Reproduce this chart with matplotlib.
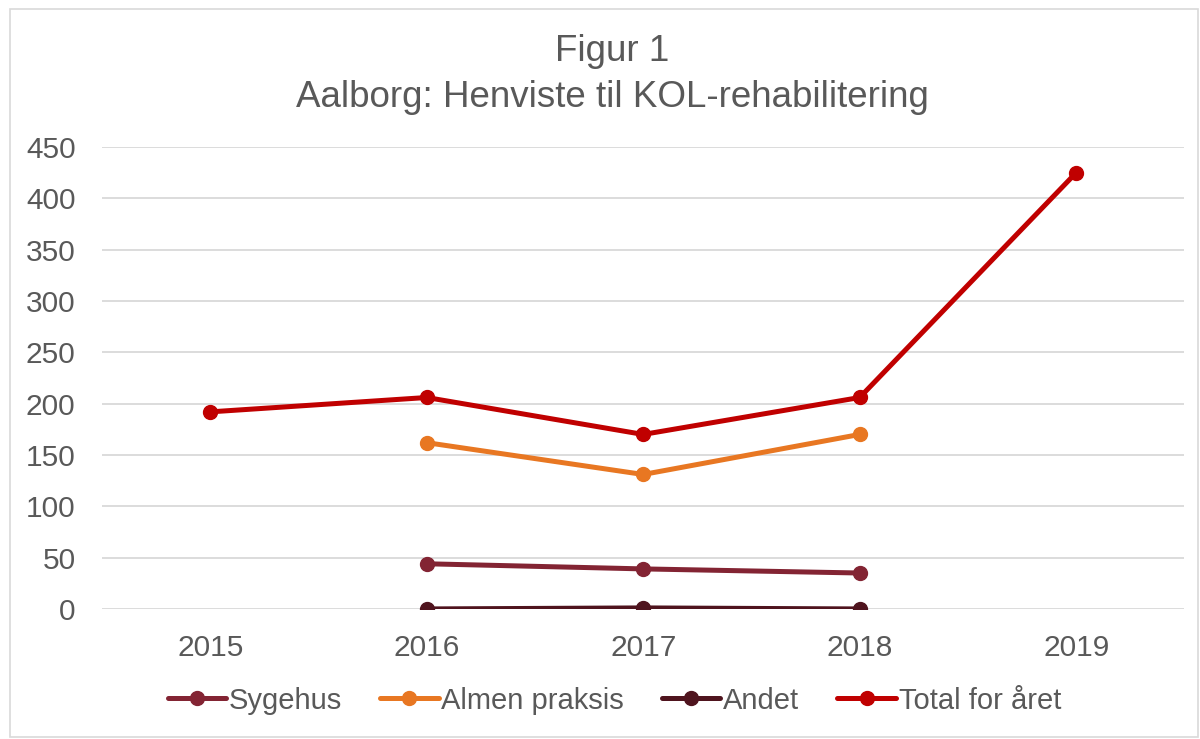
import matplotlib
matplotlib.use('Agg')
import matplotlib.pyplot as plt
from matplotlib.patches import Rectangle
import numpy as np

years = ['2015', '2016', '2017', '2018', '2019']
sygehus = [np.nan, 44, 39, 35, np.nan]
almen = [np.nan, 162, 131, 170, np.nan]
andet = [np.nan, 0, 1, 0, np.nan]
total = [192, 206, 170, 206, 425]

plt.rcParams['font.family'] = ['Liberation Sans', 'DejaVu Sans']
grey = '#595959'

fig = plt.figure(figsize=(12, 7.39), dpi=100)
ax = fig.add_axes([0.085, 0.176, 0.902, 0.625])

x = np.arange(len(years))
series = [
    ('Sygehus', sygehus, '#832433'),
    ('Almen praksis', almen, '#e87722'),
    ('Andet', andet, '#4f141e'),
    ('Total for året', total, '#c00000'),
]
for name, vals, col in series:
    ax.plot(x, vals, color=col, lw=3.6, marker='o', ms=10, label=name,
            solid_capstyle='round', zorder=3)

ax.set_xlim(-0.5, 4.5)
ax.set_ylim(0, 450)
ax.set_yticks(range(0, 451, 50))
ax.set_xticks(x)
ax.set_xticklabels(years)
ax.tick_params(axis='x', length=0, labelsize=21.5, colors=grey, pad=18)
ax.tick_params(axis='y', length=0, labelsize=21.5, colors=grey, pad=19)
for s in ax.spines.values():
    s.set_visible(False)
ax.grid(axis='y', color='#d9d9d9', lw=1.3)
ax.set_axisbelow(True)

fig.text(0.51, 0.930, 'Figur 1', ha='center', va='center', fontsize=26.5, color=grey)
fig.text(0.51, 0.868, 'Aalborg: Henviste til KOL-rehabilitering', ha='center',
         va='center', fontsize=26.5, color=grey)

leg = fig.legend(loc='center', bbox_to_anchor=(0.512, 0.052), ncol=4, frameon=False,
                 fontsize=21, handlelength=2.0, handletextpad=0.1, columnspacing=1.3,
                 labelcolor=grey)

fig.patches.append(Rectangle((0.008, 0.003), 0.99, 0.985, transform=fig.transFigure,
                             fill=False, edgecolor='#d9d9d9', lw=1.2))

fig.savefig('out.png', dpi=100)
